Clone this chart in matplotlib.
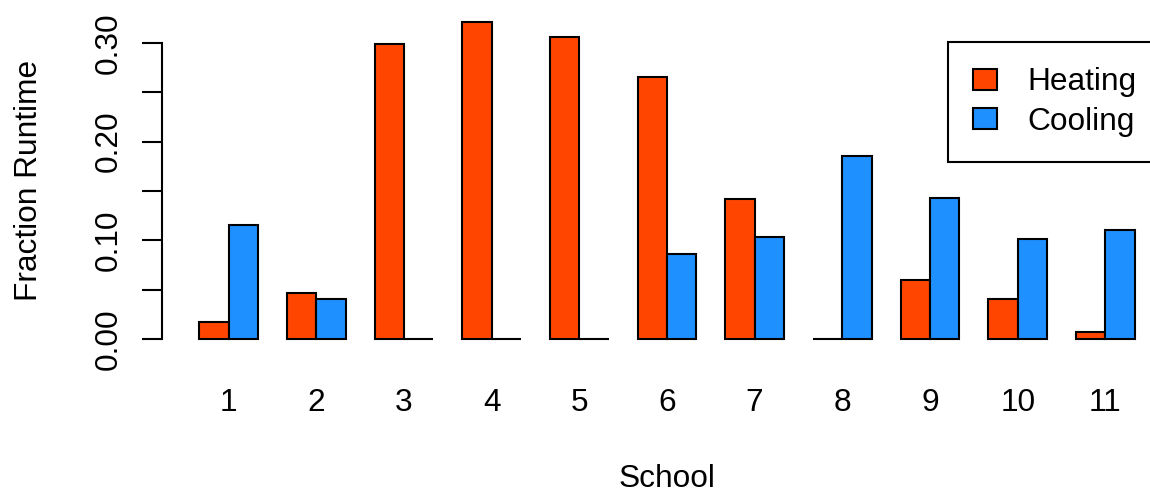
import matplotlib.pyplot as plt
import numpy as np
from matplotlib.patches import Patch

# Fraction of runtime per school
schools = ['1', '2', '3', '4', '5', '6', '7', '8', '9', '10', '11']
heating = [0.017, 0.047, 0.299, 0.321, 0.306, 0.266, 0.142, 0.0, 0.060, 0.041, 0.007]
cooling = [0.116, 0.041, 0.0, 0.0, 0.0, 0.086, 0.103, 0.185, 0.143, 0.101, 0.110]
yticks = [0.0, 0.05, 0.10, 0.15, 0.20, 0.25, 0.30]
ytick_labels = ['0.00', '', '0.10', '', '0.20', '', '0.30']

heat_color = '#FF4500'
cool_color = '#1E90FF'

plt.rcParams['font.family'] = ['Liberation Sans', 'DejaVu Sans']
plt.rcParams['font.size'] = 22.8

fig = plt.figure(figsize=(11.5, 4.98), dpi=100)
ax = fig.add_axes([162 / 1150, 0.294, 1010 / 1150, 0.6867])

# R barplot(beside=TRUE) layout: groups of two unit bars, one unit apart
n = len(schools)
left = 1 + 3 * np.arange(n)
ax.bar(left, heating, width=1, align='edge', color=heat_color,
       edgecolor='black', linewidth=1.5)
ax.bar(left + 1, cooling, width=1, align='edge', color=cool_color,
       edgecolor='black', linewidth=1.5)

ax.set_xlim(-0.28, 34.28)
ax.set_ylim(-0.0128, 0.3338)

for side in ['top', 'right', 'bottom']:
    ax.spines[side].set_visible(False)
ax.spines['left'].set_bounds(0, 0.30)
ax.spines['left'].set_linewidth(1.5)

ax.set_yticks(yticks)
ax.set_yticklabels(ytick_labels, rotation=90, va='center')
ax.tick_params(axis='y', length=14.4, width=1.5, pad=13.2)

ax.set_xticks(left + 1)
ax.set_xticklabels(schools)
ax.tick_params(axis='x', length=0, pad=26.5)

ax.set_ylabel('Fraction Runtime')
ax.yaxis.set_label_coords(-0.1168, 0.5)
ax.set_xlabel('School', va='top')
ax.xaxis.set_label_coords(0.5, -0.33)

handles = [Patch(facecolor=heat_color, edgecolor='black', linewidth=1.5),
           Patch(facecolor=cool_color, edgecolor='black', linewidth=1.5)]
leg = ax.legend(handles, ['Heating', 'Cooling'], loc='upper left',
                bbox_to_anchor=(948 / 1150, 1 - 42 / 498),
                bbox_transform=fig.transFigure, borderaxespad=0,
                fancybox=False, framealpha=1, edgecolor='black',
                handlelength=0.75, handleheight=0.65, handletextpad=0.95,
                labelspacing=0.3, borderpad=0.8)
leg.get_frame().set_linewidth(1.5)

fig.savefig('out.png', dpi=100)
